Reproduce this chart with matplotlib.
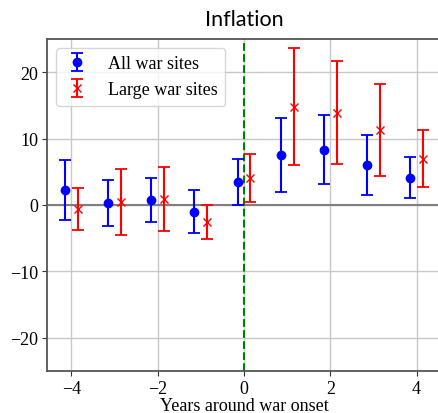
import numpy as np
import matplotlib.pyplot as plt

plt.rcParams['font.family'] = ['Liberation Serif', 'DejaVu Serif']

years = np.array([-4, -3, -2, -1, 0, 1, 2, 3, 4])

all_mean = [2.3, 0.3, 0.7, -1.0, 3.43, 7.55, 8.35, 6.0, 4.13]
all_err = [4.55, 3.4, 3.3, 3.23, 3.43, 5.55, 5.15, 4.5, 3.07]

large_mean = [-0.56, 0.48, 0.95, -2.55, 4.06, 14.83, 13.9, 11.3, 7.0]
large_err = [3.14, 4.98, 4.8, 2.55, 3.61, 8.87, 7.8, 6.9, 4.3]

fig = plt.figure(figsize=(4.38, 4.14), dpi=100)
ax = fig.add_axes([47 / 438, 42 / 414, 394 / 438, 332 / 414])

ax.grid(True, color='#c8c8c8', linewidth=1.0)
ax.axhline(0, color='#808080', linewidth=1.5, zorder=2)
ax.axvline(0, color='green', linestyle='--', linewidth=1.5, zorder=2)

ax.errorbar(years - 0.15, all_mean, yerr=all_err, fmt='o', color='blue',
            markersize=6, capsize=4, elinewidth=1.5, capthick=1.3,
            label='All war sites', zorder=3)
ax.errorbar(years + 0.15, large_mean, yerr=large_err, fmt='x', color='red',
            markersize=6, capsize=4, elinewidth=1.5, capthick=1.3,
            label='Large war sites', zorder=3)

ax.set_xlim(-4.565, 4.565)
ax.set_ylim(-25, 25)
ax.set_xticks([-4, -2, 0, 2, 4])
ax.set_yticks([-20, -10, 0, 10, 20])
ax.tick_params(labelsize=13, colors='#333333', labelcolor='black', pad=3)
for s in ax.spines.values():
    s.set_color('#555555')
    s.set_linewidth(1.3)

ax.set_xlabel('Years around war onset', fontsize=13, labelpad=0)
ax.set_title('Inflation', fontsize=15.5, family=['Lato', 'DejaVu Sans'], pad=10)
ax.legend(loc='upper left', fontsize=13, handletextpad=1.0, handlelength=1.5)

fig.savefig('out.png', dpi=100)
